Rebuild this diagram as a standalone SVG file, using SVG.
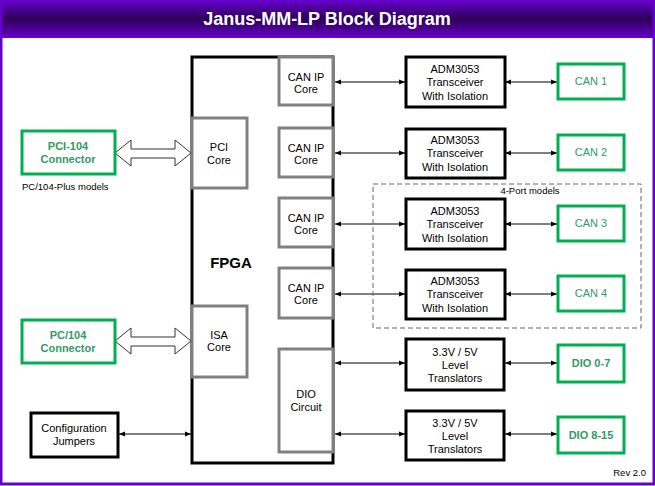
<svg xmlns="http://www.w3.org/2000/svg" width="655" height="486" viewBox="0 0 655 486">
<style>
text{font-family:"Liberation Sans",Arial,sans-serif;font-size:11px;text-anchor:middle;fill:#000}
.blk{fill:#fff;stroke:#000;stroke-width:3}
.gry{fill:#fff;stroke:#808080;stroke-width:3}
.grn{fill:#fff;stroke:#00b050;stroke-width:3}
.gt{fill:#339966;font-weight:bold}
.ln{stroke:#000;stroke-width:1;fill:none;marker-start:url(#ah);marker-end:url(#ah)}
.big{fill:#fff;stroke:#333;stroke-width:1}
</style>
<defs>
<linearGradient id="tg" x1="0" y1="0" x2="0" y2="1">
<stop offset="0" stop-color="#6600cc"/>
<stop offset="0.5" stop-color="#2d0059"/>
<stop offset="1" stop-color="#6600cc"/>
</linearGradient>
<marker id="ah" viewBox="0 0 6 6" refX="6" refY="3" markerWidth="6" markerHeight="6" orient="auto-start-reverse" markerUnits="userSpaceOnUse">
<path d="M0,0.5 L6,3 L0,5.5 Z" fill="#000"/>
</marker>
</defs>
<rect x="0" y="0" width="655" height="486" fill="#fff"/>
<rect x="0" y="0" width="655" height="38" fill="url(#tg)"/>
<rect x="1" y="1" width="653" height="483" fill="none" stroke="#6600cc" stroke-width="3"/>
<text x="327" y="25" style="font-size:18px;font-weight:bold;fill:#fff">Janus-MM-LP Block Diagram</text>

<g id="connectors">
<path class="ln" d="M335,82 H405"/>
<path class="ln" d="M335,153 H405"/>
<path class="ln" d="M335,224 H405"/>
<path class="ln" d="M335,294 H405"/>
<path class="ln" d="M335,363 H405"/>
<path class="ln" d="M335,434 H405"/>
<path class="ln" d="M505,82 H557"/>
<path class="ln" d="M505,153 H557"/>
<path class="ln" d="M505,224 H557"/>
<path class="ln" d="M505,294 H557"/>
<path class="ln" d="M505,363 H557"/>
<path class="ln" d="M505,434 H557"/>
<path class="ln" d="M119,434 H191"/>
<path class="big" d="M115,153 L131,140 L131,149 L175,149 L175,140 L191,153 L175,166 L175,158 L131,158 L131,166 Z"/>
<path class="big" d="M115,341 L131,328 L131,337 L175,337 L175,328 L191,341 L175,354 L175,346 L131,346 L131,354 Z"/>
</g>

<g id="fpga">
<rect class="blk" x="192" y="57" width="141" height="406"/>
<text x="231" y="268" style="font-size:15px;font-weight:bold">FPGA</text>
</g>
<g id="can-ip-1"><rect class="gry" x="279" y="57" width="54" height="48"/><text x="306" y="81">CAN IP</text><text x="306" y="93">Core</text></g>
<g id="can-ip-2"><rect class="gry" x="279" y="128" width="54" height="49"/><text x="306" y="152">CAN IP</text><text x="306" y="164">Core</text></g>
<g id="can-ip-3"><rect class="gry" x="279" y="198" width="54" height="49"/><text x="306" y="222">CAN IP</text><text x="306" y="234">Core</text></g>
<g id="can-ip-4"><rect class="gry" x="279" y="268" width="54" height="50"/><text x="306" y="292">CAN IP</text><text x="306" y="304">Core</text></g>
<g id="dio-circuit"><rect class="gry" x="279" y="349" width="54" height="103"/><text x="306" y="398">DIO</text><text x="306" y="411">Circuit</text></g>
<g id="pci-core"><rect class="gry" x="192" y="118" width="55" height="70"/><text x="219" y="151">PCI</text><text x="219" y="164">Core</text></g>
<g id="isa-core"><rect class="gry" x="192" y="306" width="55" height="71"/><text x="219" y="339">ISA</text><text x="219" y="351">Core</text></g>

<g id="xcvr-1"><rect class="blk" x="406" y="57" width="99" height="50"/><text x="455" y="73">ADM3053</text><text x="455" y="86">Transceiver</text><text x="455" y="100">With Isolation</text></g>
<g id="xcvr-2"><rect class="blk" x="406" y="129" width="99" height="49"/><text x="455" y="144">ADM3053</text><text x="455" y="157">Transceiver</text><text x="455" y="171">With Isolation</text></g>
<g id="xcvr-3"><rect class="blk" x="406" y="199" width="99" height="50"/><text x="455" y="215">ADM3053</text><text x="455" y="228">Transceiver</text><text x="455" y="242">With Isolation</text></g>
<g id="xcvr-4"><rect class="blk" x="406" y="270" width="99" height="49"/><text x="455" y="285">ADM3053</text><text x="455" y="298">Transceiver</text><text x="455" y="312">With Isolation</text></g>
<g id="lvl-1"><rect class="blk" x="406" y="339" width="98" height="51"/><text x="455" y="356">3.3V / 5V</text><text x="455" y="369">Level</text><text x="455" y="382">Translators</text></g>
<g id="lvl-2"><rect class="blk" x="406" y="411" width="98" height="49"/><text x="455" y="427">3.3V / 5V</text><text x="455" y="440">Level</text><text x="455" y="453">Translators</text></g>

<g id="can-1"><rect class="grn" x="558" y="64" width="66" height="35"/><text class="gt" x="591" y="85" style="font-weight:normal">CAN 1</text></g>
<g id="can-2"><rect class="grn" x="558" y="135" width="66" height="35"/><text class="gt" x="591" y="156" style="font-weight:normal">CAN 2</text></g>
<g id="can-3"><rect class="grn" x="558" y="206" width="66" height="35"/><text class="gt" x="591" y="227" style="font-weight:normal">CAN 3</text></g>
<g id="can-4"><rect class="grn" x="558" y="276" width="66" height="35"/><text class="gt" x="591" y="297" style="font-weight:normal">CAN 4</text></g>
<g id="dio-0-7"><rect class="grn" x="558" y="345" width="66" height="37"/><text class="gt" x="591" y="367">DIO 0-7</text></g>
<g id="dio-8-15"><rect class="grn" x="558" y="417" width="66" height="36"/><text class="gt" x="591" y="439">DIO 8-15</text></g>

<g id="pci104"><rect class="grn" x="22" y="131" width="93" height="43"/><text class="gt" x="68" y="150">PCI-104</text><text class="gt" x="68" y="163">Connector</text></g>
<text x="22" y="190" style="font-size:9.5px;text-anchor:start">PC/104-Plus models</text>
<g id="pc104"><rect class="grn" x="22" y="320" width="93" height="43"/><text class="gt" x="68" y="339">PC/104</text><text class="gt" x="68" y="352">Connector</text></g>
<g id="config"><rect class="blk" x="31" y="413" width="87" height="44"/><text x="74" y="432">Configuration</text><text x="74" y="445">Jumpers</text></g>

<g id="four-port">
<rect x="373" y="184" width="268" height="144" fill="none" stroke="#666" stroke-width="1" stroke-dasharray="5,3"/>
<text x="530" y="194" style="font-size:9.5px">4-Port models</text>
</g>
<text x="646" y="476" style="font-size:9.5px;text-anchor:end">Rev 2.0</text>
</svg>
